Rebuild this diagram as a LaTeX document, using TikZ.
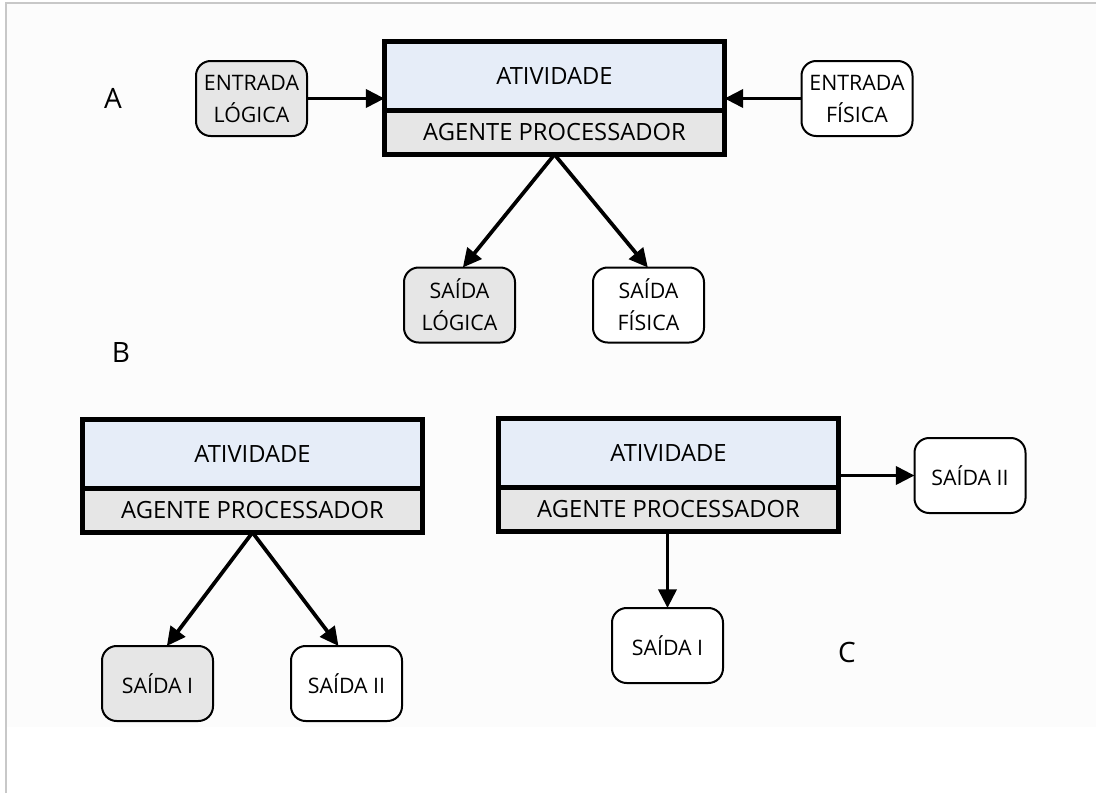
\documentclass[tikz,border=0pt]{standalone}
\usepackage{fontspec}
\setmainfont{Open Sans}
\usetikzlibrary{arrows.meta}
\definecolor{actblue}{RGB}{230,237,248}
\definecolor{agentgray}{RGB}{230,230,230}
\definecolor{framegray}{RGB}{200,200,200}
\definecolor{paper}{RGB}{252,252,252}
\tikzset{
  actpart/.style={draw=black, line width=3.75pt, fill=actblue, minimum width=255pt,
    minimum height=51.75pt, inner sep=0pt, outer sep=0pt, anchor=north west,
    font=\fontsize{17.8}{20}\selectfont},
  agentpart/.style={draw=black, line width=3.75pt, fill=agentgray, minimum width=255pt,
    minimum height=33pt, inner sep=0pt, outer sep=0pt, anchor=north west,
    font=\fontsize{17.8}{20}\selectfont},
  flowbox/.style={draw=black, line width=1.5pt, rounded corners=11pt, minimum width=83.25pt,
    minimum height=56.25pt, inner sep=0pt, outer sep=0pt, align=center,
    font=\fontsize{16}{24}\selectfont},
  logicbox/.style={flowbox, fill=agentgray},
  physbox/.style={flowbox, fill=white},
  flowarrow/.style={line width=2.8pt, -{Triangle[length=14pt,width=13.5pt]}},
  letter/.style={font=\fontsize{21}{24}\selectfont},
}
\begin{document}
\begin{tikzpicture}[x=0.75pt,y=-0.75pt]
  \useasboundingbox (0,0) rectangle (1096,793);
  \fill[white] (0,0) rectangle (1096,793);
  \fill[paper] (6,3) rectangle (1096,727);
  \draw[framegray, line width=1pt] (6,793) -- (6,3) -- (1096,3);

  % ---- part A ----
  \node[letter] (lblA) at (113,98) {A};
  \node[agentpart] (agA) at (384.5,110.5) {AGENTE PROCESSADOR};
  \node[actpart] (actA) at (384.5,41.5) {ATIVIDADE};
  \node[logicbox] (inL) at (251.5,98.5) {ENTRADA\\LÓGICA};
  \node[physbox] (inF) at (857,98.5) {ENTRADA\\FÍSICA};
  \node[logicbox] (outL) at (459.5,305) {SAÍDA\\LÓGICA};
  \node[physbox] (outF) at (648.5,305) {SAÍDA\\FÍSICA};
  \draw[flowarrow] (inL.east) -- (inL.east -| actA.west);
  \draw[flowarrow] (inF.west) -- (inF.west -| actA.east);
  \draw[flowarrow] (agA.south) -- ([xshift=2.5pt]outL.north);
  \draw[flowarrow] (agA.south) -- ([xshift=-0.5pt]outF.north);

  % ---- part B ----
  \node[letter] (lblB) at (121,352) {B};
  \node[agentpart] (agB) at (82.5,488.5) {AGENTE PROCESSADOR};
  \node[actpart] (actB) at (82.5,419.5) {ATIVIDADE};
  \node[logicbox] (bOut1) at (157.5,683.5) {SAÍDA I};
  \node[physbox] (bOut2) at (346.5,683.5) {SAÍDA II};
  \draw[flowarrow] (agB.south) -- ([xshift=7pt]bOut1.north);
  \draw[flowarrow] (agB.south) -- ([xshift=-6pt]bOut2.north);

  % ---- part C ----
  \node[letter] (lblC) at (847,652) {C};
  \node[agentpart] (agC) at (498.5,487.5) {AGENTE PROCESSADOR};
  \node[actpart] (actC) at (498.5,418.5) {ATIVIDADE};
  \node[physbox] (cOut1) at (667.5,645.5) {SAÍDA I};
  \node[physbox] (cOut2) at (970,475.5) {SAÍDA II};
  \draw[flowarrow] (agC.south -| cOut1.north) -- (cOut1.north);
  \draw[flowarrow] (cOut2.west -| actC.east) -- (cOut2.west);
\end{tikzpicture}
\end{document}
